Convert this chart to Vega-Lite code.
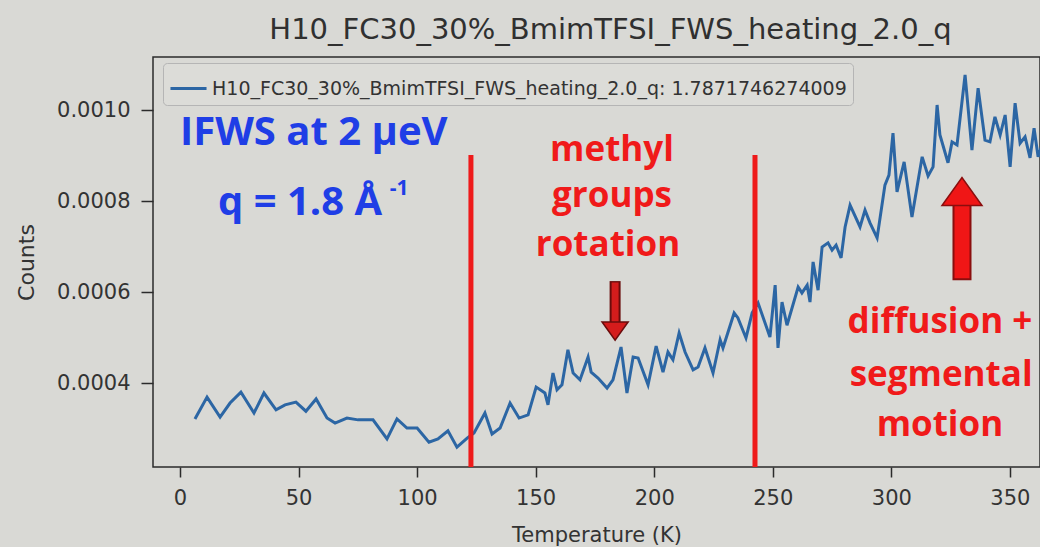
{
  "$schema": "https://vega.github.io/schema/vega-lite/v6.json",
  "autosize": {"type": "none"},
  "width": 887,
  "height": 410,
  "padding": {"left": 153, "top": 57, "right": 0, "bottom": 80},
  "background": "#d9d9d5",
  "config": {
    "view": {"stroke": "#2b2b2b", "strokeWidth": 1.5, "fill": "#d9d9d5"},
    "font": "DejaVu Sans"
  },
  "title": {
    "text": "H10_FC30_30%_BmimTFSI_FWS_heating_2.0_q",
    "fontSize": 29,
    "fontWeight": "normal",
    "color": "#303030",
    "font": "DejaVu Sans",
    "offset": 12,
    "dx": 14
  },
  "layer": [
    {
      "data": {
        "values": [
          {"T": 6.3, "counts": 0.000321}, {"T": 11.4, "counts": 0.000369}, {"T": 16.9, "counts": 0.000325}, {"T": 21.1, "counts": 0.000356},
          {"T": 25.7, "counts": 0.000380}, {"T": 31.2, "counts": 0.000334}, {"T": 35.4, "counts": 0.000378}, {"T": 40.5, "counts": 0.000341},
          {"T": 44.3, "counts": 0.000352}, {"T": 48.9, "counts": 0.000358}, {"T": 53.1, "counts": 0.000338}, {"T": 57.4, "counts": 0.000365},
          {"T": 62.0, "counts": 0.000323}, {"T": 65.4, "counts": 0.000312}, {"T": 70.4, "counts": 0.000323}, {"T": 75.1, "counts": 0.000319},
          {"T": 81.4, "counts": 0.000319}, {"T": 87.3, "counts": 0.000277}, {"T": 91.5, "counts": 0.000321}, {"T": 95.7, "counts": 0.000301},
          {"T": 100.0, "counts": 0.000301}, {"T": 105.0, "counts": 0.000270}, {"T": 108.8, "counts": 0.000277}, {"T": 113.0, "counts": 0.000295},
          {"T": 116.8, "counts": 0.000259}, {"T": 121.1, "counts": 0.000279}, {"T": 124.0, "counts": 0.000290}, {"T": 128.6, "counts": 0.000334},
          {"T": 131.6, "counts": 0.000288}, {"T": 135.0, "counts": 0.000301}, {"T": 139.2, "counts": 0.000356}, {"T": 143.0, "counts": 0.000323},
          {"T": 146.8, "counts": 0.000330}, {"T": 150.2, "counts": 0.000391}, {"T": 153.9, "counts": 0.000378}, {"T": 155.2, "counts": 0.000352},
          {"T": 157.3, "counts": 0.000422}, {"T": 159.0, "counts": 0.000385}, {"T": 161.1, "counts": 0.000396}, {"T": 163.6, "counts": 0.000473},
          {"T": 165.8, "counts": 0.000422}, {"T": 168.7, "counts": 0.000407}, {"T": 172.1, "counts": 0.000457}, {"T": 173.4, "counts": 0.000424},
          {"T": 176.3, "counts": 0.000411}, {"T": 180.1, "counts": 0.000389}, {"T": 182.6, "counts": 0.000407}, {"T": 186.0, "counts": 0.000479},
          {"T": 188.5, "counts": 0.000378}, {"T": 191.1, "counts": 0.000457}, {"T": 193.2, "counts": 0.000455}, {"T": 197.4, "counts": 0.000396},
          {"T": 200.8, "counts": 0.000481}, {"T": 203.7, "counts": 0.000424}, {"T": 205.8, "counts": 0.000468}, {"T": 207.9, "counts": 0.000451},
          {"T": 210.5, "counts": 0.000510}, {"T": 213.0, "counts": 0.000468}, {"T": 216.4, "counts": 0.000429}, {"T": 218.5, "counts": 0.000435},
          {"T": 221.4, "counts": 0.000477}, {"T": 224.8, "counts": 0.000422}, {"T": 227.8, "counts": 0.000495}, {"T": 229.0, "counts": 0.000477},
          {"T": 233.7, "counts": 0.000554}, {"T": 235.3, "counts": 0.000543}, {"T": 238.7, "counts": 0.000499}, {"T": 241.3, "counts": 0.000554},
          {"T": 243.8, "counts": 0.000576}, {"T": 248.8, "counts": 0.000501}, {"T": 251.0, "counts": 0.000615}, {"T": 252.2, "counts": 0.000477},
          {"T": 253.9, "counts": 0.000578}, {"T": 256.0, "counts": 0.000527}, {"T": 260.7, "counts": 0.000611}, {"T": 262.3, "counts": 0.000598},
          {"T": 264.5, "counts": 0.000615}, {"T": 265.7, "counts": 0.000578}, {"T": 267.0, "counts": 0.000666}, {"T": 269.1, "counts": 0.000604},
          {"T": 270.8, "counts": 0.000699}, {"T": 273.3, "counts": 0.000708}, {"T": 275.0, "counts": 0.000692}, {"T": 276.7, "counts": 0.000703},
          {"T": 278.8, "counts": 0.000675}, {"T": 280.5, "counts": 0.000743}, {"T": 282.6, "counts": 0.000791}, {"T": 286.8, "counts": 0.000743},
          {"T": 288.9, "counts": 0.000780}, {"T": 291.0, "counts": 0.000752}, {"T": 294.0, "counts": 0.000719}, {"T": 297.3, "counts": 0.000835},
          {"T": 299.0, "counts": 0.000857}, {"T": 300.7, "counts": 0.000949}, {"T": 302.4, "counts": 0.000820}, {"T": 305.4, "counts": 0.000886},
          {"T": 308.7, "counts": 0.000765}, {"T": 313.0, "counts": 0.000897}, {"T": 315.5, "counts": 0.000855}, {"T": 317.6, "counts": 0.000875},
          {"T": 319.3, "counts": 0.001011}, {"T": 320.5, "counts": 0.000945}, {"T": 323.9, "counts": 0.000884}, {"T": 325.6, "counts": 0.000930},
          {"T": 327.7, "counts": 0.000923}, {"T": 331.1, "counts": 0.001077}, {"T": 334.0, "counts": 0.000912}, {"T": 336.6, "counts": 0.001048},
          {"T": 339.5, "counts": 0.000934}, {"T": 341.6, "counts": 0.000930}, {"T": 343.7, "counts": 0.000985}, {"T": 345.9, "counts": 0.000945},
          {"T": 348.0, "counts": 0.000989}, {"T": 350.1, "counts": 0.000875}, {"T": 352.2, "counts": 0.001015}, {"T": 354.3, "counts": 0.000927},
          {"T": 356.4, "counts": 0.000941}, {"T": 358.5, "counts": 0.000895}, {"T": 360.2, "counts": 0.000960}, {"T": 361.9, "counts": 0.000897},
          {"T": 364.0, "counts": 0.000930}
        ]
      },
      "transform": [{"calculate": "'H10_FC30_30%_BmimTFSI_FWS_heating_2.0_q: 1.7871746274009'", "as": "series"}],
      "mark": {"type": "line", "strokeWidth": 3, "clip": true},
      "encoding": {
        "x": {
          "field": "T", "type": "quantitative",
          "scale": {"domain": [-11.39, 362.7], "nice": false, "zero": false},
          "axis": {
            "title": "Temperature (K)", "values": [0, 50, 100, 150, 200, 250, 300, 350],
            "grid": false, "domain": false, "tickSize": 10, "tickWidth": 1.5, "tickColor": "#2b2b2b",
            "labelFontSize": 21, "labelColor": "#333333", "labelPadding": 10, "labelFont": "DejaVu Sans",
            "titleFontSize": 21, "titleColor": "#333333", "titleFontWeight": "normal", "titlePadding": 16, "titleFont": "DejaVu Sans"
          }
        },
        "y": {
          "field": "counts", "type": "quantitative",
          "scale": {"domain": [0.0002154, 0.0011165], "nice": false, "zero": false},
          "axis": {
            "title": "Counts", "values": [0.0004, 0.0006, 0.0008, 0.001], "format": ".4f",
            "grid": false, "domain": false, "tickSize": 12, "tickWidth": 1.5, "tickColor": "#2b2b2b",
            "labelFontSize": 21, "labelColor": "#333333", "labelPadding": 11, "labelFont": "DejaVu Sans",
            "titleFontSize": 22, "titleColor": "#333333", "titleFontWeight": "normal", "titlePadding": 18, "titleFont": "DejaVu Sans"
          }
        },
        "color": {
          "field": "series", "type": "nominal",
          "scale": {"range": ["#2c66a4"]},
          "legend": {
            "title": null, "orient": "none", "legendX": 10, "legendY": 6,
            "symbolType": "stroke", "symbolSize": 1300, "symbolStrokeWidth": 2.8, "symbolStrokeColor": "#2c66a4",
            "labelFontSize": 19, "labelColor": "#333333", "labelLimit": 1000, "labelFont": "DejaVu Sans",
            "fillColor": "#dcdcd8", "strokeColor": "#b5b5b5", "cornerRadius": 4, "padding": 6
          }
        }
      }
    },
    {
      "data": {"values": [{"T": 122.7, "counts": 0.000901, "counts2": 0.0002154}, {"T": 242.5, "counts": 0.000901, "counts2": 0.0002154}]},
      "mark": {"type": "rule", "color": "#ee1a1a", "strokeWidth": 5},
      "encoding": {
        "x": {"field": "T", "type": "quantitative"},
        "y": {"field": "counts", "type": "quantitative"},
        "y2": {"field": "counts2"}
      }
    },
    {
      "data": {"values": [{"T": 183.5, "counts": 0.000624, "counts2": 0.000527}]},
      "mark": {"type": "rule", "color": "#6a0c0c", "strokeWidth": 11, "strokeCap": "butt"},
      "encoding": {
        "x": {"field": "T", "type": "quantitative"},
        "y": {"field": "counts", "type": "quantitative"},
        "y2": {"field": "counts2"}
      }
    },
    {
      "data": {"values": [{"T": 183.5, "counts": 0.000621, "counts2": 0.000527}]},
      "mark": {"type": "rule", "color": "#d41c1c", "strokeWidth": 7, "strokeCap": "butt"},
      "encoding": {
        "x": {"field": "T", "type": "quantitative"},
        "y": {"field": "counts", "type": "quantitative"},
        "y2": {"field": "counts2"}
      }
    },
    {
      "data": {"values": [{"T": 183.5, "counts": 0.000514}]},
      "mark": {"type": "point", "shape": "M-1,-0.7L1,-0.7L0,0.7Z", "size": 680, "filled": true, "fill": "#d41c1c", "stroke": "#6a0c0c", "strokeWidth": 1.5, "opacity": 1},
      "encoding": {
        "x": {"field": "T", "type": "quantitative"},
        "y": {"field": "counts", "type": "quantitative"}
      }
    },
    {
      "data": {"values": [{"T": 329.8, "counts": 0.000800, "counts2": 0.000626}]},
      "mark": {"type": "rule", "color": "#8a0e0e", "strokeWidth": 19, "strokeCap": "butt"},
      "encoding": {
        "x": {"field": "T", "type": "quantitative"},
        "y": {"field": "counts", "type": "quantitative"},
        "y2": {"field": "counts2"}
      }
    },
    {
      "data": {"values": [{"T": 329.8, "counts": 0.000800, "counts2": 0.000630}]},
      "mark": {"type": "rule", "color": "#f01616", "strokeWidth": 15, "strokeCap": "butt"},
      "encoding": {
        "x": {"field": "T", "type": "quantitative"},
        "y": {"field": "counts", "type": "quantitative"},
        "y2": {"field": "counts2"}
      }
    },
    {
      "data": {"values": [{"T": 329.8, "counts": 0.000821}]},
      "mark": {"type": "point", "shape": "M-1,0.7L1,0.7L0,-0.7Z", "size": 1600, "filled": true, "fill": "#f01616", "stroke": "#8a0e0e", "strokeWidth": 1.5, "opacity": 1},
      "encoding": {
        "x": {"field": "T", "type": "quantitative"},
        "y": {"field": "counts", "type": "quantitative"}
      }
    },
    {
      "data": {"values": [
        {"T": 0.0, "counts": 0.000949, "label": "IFWS at 2 µeV"},
        {"T": 16.0, "counts": 0.000796, "label": "q = 1.8 Å"}
      ]},
      "mark": {"type": "text", "align": "left", "baseline": "middle", "font": "Open Sans", "fontWeight": "bold", "fontSize": 40, "color": "#1f3ee6"},
      "encoding": {
        "x": {"field": "T", "type": "quantitative"},
        "y": {"field": "counts", "type": "quantitative"},
        "text": {"field": "label"}
      }
    },
    {
      "data": {"values": [{"T": 88.5, "counts": 0.000826, "label": "-1"}]},
      "mark": {"type": "text", "align": "left", "baseline": "middle", "font": "Open Sans", "fontWeight": "bold", "fontSize": 21, "color": "#1f3ee6"},
      "encoding": {
        "x": {"field": "T", "type": "quantitative"},
        "y": {"field": "counts", "type": "quantitative"},
        "text": {"field": "label"}
      }
    },
    {
      "data": {"values": [
        {"T": 182.2, "counts": 0.000912, "label": "methyl"},
        {"T": 182.2, "counts": 0.000811, "label": "groups"},
        {"T": 180.5, "counts": 0.000703, "label": "rotation"},
        {"T": 320.5, "counts": 0.000534, "label": "diffusion +"},
        {"T": 321.0, "counts": 0.000418, "label": "segmental"},
        {"T": 320.5, "counts": 0.000308, "label": "motion"}
      ]},
      "mark": {"type": "text", "align": "center", "baseline": "middle", "font": "Open Sans", "fontWeight": "bold", "fontSize": 35, "color": "#f01a1a"},
      "encoding": {
        "x": {"field": "T", "type": "quantitative"},
        "y": {"field": "counts", "type": "quantitative"},
        "text": {"field": "label"}
      }
    }
  ]
}
